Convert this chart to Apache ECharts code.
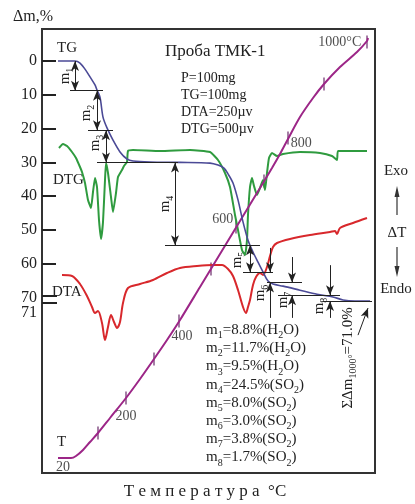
<!DOCTYPE html>
<html><head><meta charset="utf-8">
<script src="https://cdn.jsdelivr.net/npm/echarts@6/dist/echarts.min.js"></script>
<style>html,body{margin:0;padding:0;background:#fff}#c{width:415px;height:504px}</style>
</head><body><div id="c"></div>
<script>
// ---------- DATA ----------
// time axis in arbitrary units (hidden), TG in Δm %, DTG/DTA/T curve heights in relative units
const tgTime = [16,33,38,43,48,53,55,58,61,65,71,78,85,91,108,138,168,176,182,186,191,196,201,206,211,216,221,226,231,241,258,275,291,301,313,328];
const tgMass = [0,0,0.6,2.4,4.7,7.1,8.6,10.7,16.6,19.8,23.4,26.9,29.0,29.6,29.9,30.0,30.2,30.8,31.7,33.4,36.1,41.1,47.6,53.0,56.5,59.5,62.4,65.1,66.0,66.6,67.8,69.0,69.8,70.7,71.0,71.0];

const dtgTime = [17,21,25,30,34,38,40,43,46,49,51,53,55,57,59,61,63,64,66,69,71,74,76,80,82,85,86,91,118,148,168,176,183,188,193,196,200,203,205,206,208,210,212,215,218,221,223,225,227,230,235,241,258,278,290,295,296,308,325];
const dtgSignal = [325,329,327,321,315,306,301,290,273,265,281,295,286,253,234,251,293,310,300,276,261,280,296,303,307,311,322,323,322,323,321,313,300,286,258,243,223,218,233,258,286,295,287,278,285,293,283,300,315,320,317,319,321,320,317,313,322,322,322];

const dtaTime = [20,30,38,45,50,53,56,60,63,66,69,72,75,78,81,86,98,111,125,138,155,171,180,186,191,196,201,204,206,208,211,214,218,221,225,228,231,235,248,268,288,293,295,298,311,325];
const dtaSignal = [198,197,189,177,166,160,162,150,133,146,158,151,145,151,170,185,189,193,200,205,207,208,208,204,197,183,166,160,166,173,188,196,200,198,206,217,226,230,234,238,241,242,239,245,250,255];

const tTime = [16,29,34,41,48,56,68,84,98,112,125,138,158,178,198,218,230,238,246,258,271,282,298,315,325,326];
const tHeight = [15,15,17,23,31,40,55,75,94,114,133,153,186,219,252,285,305,319,334,356,375,389,406,421,432,435];

const tempTickTemp = [100,200,300,400,500,600,700,800,900,1000];
const tempTickTime = [56,84,112,137,169,194,222,246,282,325];
const tempTickHeight = [40,75,114,152,204,246,292,335,389,431];
const tempStart = 20;

const mValues = [8.8,11.7,9.5,24.5,8.0,3.0,3.8,1.7];
const mSpecies = ['H2O','H2O','H2O','SO2','SO2','SO2','SO2','SO2'];
const yTickValues = [0,10,20,30,40,50,60,70];
const yBreakLabel = 71;

// ---------- LAYOUT ----------
const SERIF = '"Liberation Serif","DejaVu Serif",serif';
const INK = '#222';
const levelLineX = [[28,61],[46,71],[55,136],[123,218],[201,231],[225,260],[236,298],[281,330]];
const arrowX = [33,55,64,133,208,228,250,288];
const outerTop = [null,null,null,null,null,55.3,58.0,60.4];
const outerBottom = 76;
const breakTicks = [69.5, 71.5];
const mLabelPos = [[65,76],[86,113],[95,143],[165,204],[237,260],[260,293],[283,300],[319,306]];

const levels = [0];
mValues.forEach(v => levels.push(+(levels[levels.length-1] + v).toFixed(1)));
const total = mValues.reduce((a,b)=>a+b,0);

const AH = {symbol:'arrow', symbolSize:[6,10]};
const NO = {symbol:'none'};
const mlData = [];
levelLineX.forEach((r,i) => {
  mlData.push([{coord:[r[0], levels[i+1]], ...NO}, {coord:[r[1], levels[i+1]], ...NO}]);
});
for (let i = 0; i < 8; i++) {
  const x = arrowX[i];
  if (outerTop[i] == null) {
    mlData.push([{coord:[x, levels[i]], ...AH}, {coord:[x, levels[i+1]], ...AH}]);
  } else {
    mlData.push([{coord:[x, outerTop[i]], ...NO}, {coord:[x, levels[i]], ...AH}]);
    mlData.push([{coord:[x, outerBottom], ...NO}, {coord:[x, levels[i+1]], ...AH}]);
  }
}
mlData.push([{coord:[316, 81.1], ...NO}, {coord:[326, 73.1], ...AH}]);
// axis-break double tick
breakTicks.forEach(v => mlData.push([{coord:[0, v], ...NO, lineStyle:{width:2}}, {coord:[15, v], ...NO}]));

const tickLabelCfg = {
  200:{position:'bottom', distance:5, offset:[0,0]},
  400:{position:'bottom', distance:2, offset:[3,0]},
  600:{position:'left', distance:2, offset:[0,-8]},
  800:{position:'right', distance:2, offset:[0,5]},
  1000:{position:'left', distance:5, offset:[0,0], suffix:'°C'}
};
const tickData = tempTickTemp.map((t,i) => {
  const c = tickLabelCfg[t];
  const item = {value:[tempTickTime[i], tempTickHeight[i]], name:String(t)};
  if (c) item.label = {show:true, position:c.position, distance:c.distance, offset:c.offset,
    formatter: String(t) + (c.suffix||'')};
  return item;
});
tickData.push({value:[tTime[0], tHeight[0]], symbolSize:0,
  label:{show:true, position:'bottom', distance:2, offset:[5,0], formatter:String(tempStart)}});

const rich = {
  m:{fontSize:15, fontFamily:SERIF, fill:INK, lineHeight:17},
  s:{fontSize:10, fontFamily:SERIF, fill:INK, lineHeight:17, verticalAlign:'bottom', padding:[0,0,-2,0]}
};
function txt(x, y, text, size, align, extra) {
  return Object.assign({type:'text', x, y, silent:true,
    style:{text, font: size + 'px ' + SERIF, fill:INK, align: align||'left', verticalAlign:'middle'}}, extra||{});
}
function richTxt(x, y, text, align, rot) {
  return {type:'text', x, y, rotation: rot||0, silent:true,
    style:{text, rich, align: align||'left', verticalAlign:'middle', fill:INK}};
}
const sub = sp => sp === 'H2O' ? '{m|H}{s|2}{m|O)}' : '{m|SO}{s|2}{m|)}';

const graphics = [
  txt(13,17,'Δm,%',16),
  txt(37,313,String(yBreakLabel),16,'right'),
  txt(57,48,'TG',15),
  txt(165,52,'Проба ТМК-1',17),
  txt(181,78,'P=100mg',14),
  txt(181,95,'TG=100mg',14),
  txt(181,112,'DTA=250µv',14),
  txt(181,129,'DTG=500µv',14),
  txt(53,180,'DTG',15),
  txt(52,292,'DTA',15),
  txt(57,442,'T',15),
  txt(396,171,'Exo',15,'center'),
  txt(397,233,'ΔT',15,'center'),
  txt(396,289,'Endo',15,'center'),
  txt(205,492,'Т е м п е р а т у р а  °C',17,'center'),
  {type:'line', silent:true, shape:{x1:397,y1:215,x2:397,y2:195}, style:{stroke:'#333', lineWidth:1.2}},
  {type:'polygon', silent:true, shape:{points:[[397,186],[394.5,197],[399.5,197]]}, style:{fill:'#333'}},
  {type:'line', silent:true, shape:{x1:397,y1:247,x2:397,y2:268}, style:{stroke:'#333', lineWidth:1.2}},
  {type:'polygon', silent:true, shape:{points:[[397,277],[394.5,266],[399.5,266]]}, style:{fill:'#333'}}
];
mValues.forEach((v,i) => {
  graphics.push(richTxt(206, 330 + i*18.2, '{m|m}{s|' + (i+1) + '}{m|=' + v.toFixed(1) + '%(}' + sub(mSpecies[i])));
  graphics.push(richTxt(mLabelPos[i][0], mLabelPos[i][1], '{m|m}{s|' + (i+1) + '}', 'center', Math.PI/2));
});
graphics.push(richTxt(348, 358, '{m|ΣΔm}{s|1000°}{m|=' + total.toFixed(1) + '%}', 'center', Math.PI/2));

const chart = echarts.init(document.getElementById('c'));
chart.setOption({
  animation:false,
  grid:{left:42, right:40, top:29, bottom:31, show:true, borderColor:'#333', borderWidth:2, backgroundColor:'transparent'},
  xAxis:{type:'value', min:0, max:333, show:false},
  yAxis:[
    {type:'value', inverse:true, min:-9.467, max:121.89,
     axisLine:{show:false}, splitLine:{show:false},
     axisTick:{show:true, inside:true, length:14, lineStyle:{color:INK, width:2},
       customValues:yTickValues.slice(0,7)},
     axisLabel:{customValues:yTickValues,
       fontFamily:SERIF, fontSize:16, color:INK, margin:5}},
    {type:'value', min:0, max:444, show:false}
  ],
  series:[
    {name:'DTG', type:'line', yAxisIndex:1, showSymbol:false, smooth:0.15,
     data: dtgTime.map((t,i)=>[t,dtgSignal[i]]), lineStyle:{color:'#2f9b3f', width:2}},
    {name:'DTA', type:'line', yAxisIndex:1, showSymbol:false, smooth:0.3,
     data: dtaTime.map((t,i)=>[t,dtaSignal[i]]), lineStyle:{color:'#d8282c', width:2}},
    {name:'T', type:'line', yAxisIndex:1, showSymbol:false, smooth:0.3,
     data: tTime.map((t,i)=>[t,tHeight[i]]), lineStyle:{color:'#9c2687', width:2}},
    {name:'Tticks', type:'scatter', yAxisIndex:1, symbol:'rect', symbolSize:[1.5,13],
     itemStyle:{color:'#6a2a6a'}, data: tickData,
     label:{show:false, fontFamily:SERIF, fontSize:14, color:INK}},
    {name:'TG', type:'line', yAxisIndex:0, showSymbol:false, smooth:0.3,
     data: tgTime.map((t,i)=>[t,tgMass[i]]), lineStyle:{color:'#4b4a96', width:1.6},
     markLine:{silent:true, animation:false, symbol:['none','none'], label:{show:false},
       lineStyle:{color:INK, width:1, type:'solid'}, emphasis:{disabled:true}, data: mlData}}
  ],
  graphic: graphics
});
</script></body></html>
